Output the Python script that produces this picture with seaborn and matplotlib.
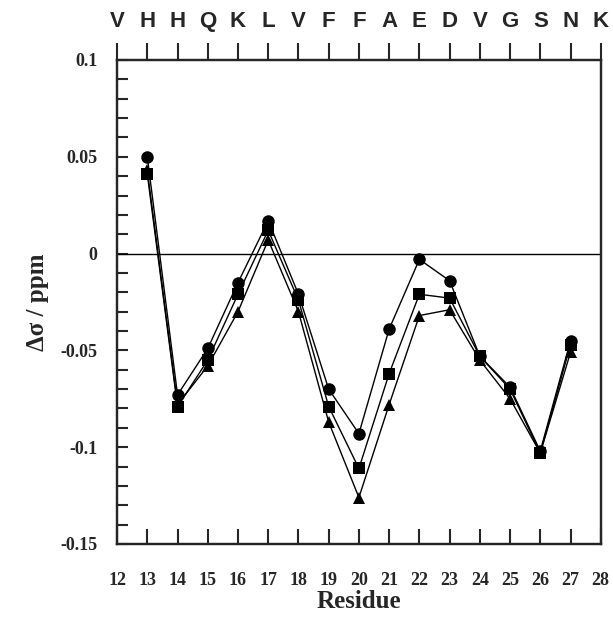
import numpy as np
import pandas as pd
import matplotlib
matplotlib.use('Agg')
import matplotlib.pyplot as plt
import seaborn as sns

residues = list(range(13, 28))
circle_vals = [0.050, -0.073, -0.049, -0.015, 0.017, -0.021, -0.070, -0.093,
               -0.039, -0.003, -0.014, -0.053, -0.069, -0.102, -0.045]
square_vals = [0.041, -0.079, -0.055, -0.021, 0.012, -0.024, -0.079, -0.111,
               -0.062, -0.021, -0.023, -0.053, -0.070, -0.103, -0.047]
triangle_vals = [0.043, -0.078, -0.058, -0.030, 0.007, -0.030, -0.087, -0.126,
                 -0.078, -0.032, -0.029, -0.055, -0.075, -0.103, -0.051]
top_letters = ['V', 'H', 'H', 'Q', 'K', 'L', 'V', 'F', 'F', 'A', 'E', 'D', 'V', 'G', 'S', 'N', 'K']
bottom_ticks = list(range(12, 29))

df = pd.concat([
    pd.DataFrame({'Residue': residues, 'shift': triangle_vals, 'set': 'tri'}),
    pd.DataFrame({'Residue': residues, 'shift': square_vals, 'set': 'sq'}),
    pd.DataFrame({'Residue': residues, 'shift': circle_vals, 'set': 'circ'}),
])

sns.set_style('ticks')
plt.rcParams['font.family'] = ['Liberation Serif', 'DejaVu Serif']

fig = plt.figure(figsize=(6.13, 6.25), dpi=100)
ax = fig.add_axes([0.191, 0.1296, 0.789, 0.7744])

ax.axhline(0, color='black', lw=1.0, zorder=1)
sns.lineplot(data=df, x='Residue', y='shift', style='set', hue='set',
             palette={'tri': 'black', 'sq': 'black', 'circ': 'black'},
             markers={'tri': '^', 'sq': 's', 'circ': 'o'},
             dashes=False, markersize=9, markeredgewidth=0, linewidth=1.0,
             legend=False, ax=ax, zorder=3)

ax.set_xlim(12, 28)
ax.set_ylim(-0.15, 0.1)
ax.set_xticks(bottom_ticks)
ax.set_xticklabels([str(t) for t in bottom_ticks], fontsize=13, fontweight='bold')
ax.set_yticks([0.1, 0.05, 0, -0.05, -0.1, -0.15])
ax.set_yticklabels(['0.1', '0.05', '0', '-0.05', '-0.1', '-0.15'], fontsize=13, fontweight='bold')
ax.yaxis.set_minor_locator(matplotlib.ticker.MultipleLocator(0.01))
ax.tick_params(axis='y', which='both', direction='in', length=8, width=1.5, pad=14)
ax.tick_params(axis='x', which='major', direction='in', length=11, width=1.5, pad=20)

ax.set_xlabel('Residue', fontsize=18, fontweight='bold', labelpad=1)
ax.set_ylabel('Δσ / ppm', fontsize=18, fontweight='bold', labelpad=8)

for sp in ax.spines.values():
    sp.set_linewidth(1.6)
    sp.set_visible(True)

ax2 = ax.twiny()
ax2.set_xlim(12, 28)
ax2.set_xticks(bottom_ticks)
ax2.set_xticklabels(top_letters, fontsize=16, fontweight='bold', family=['Liberation Sans', 'DejaVu Sans'])
ax2.tick_params(axis='x', direction='out', length=12, width=1.5, pad=8)
for sp in ax2.spines.values():
    sp.set_linewidth(1.6)

fig.savefig('out.png', dpi=100)
